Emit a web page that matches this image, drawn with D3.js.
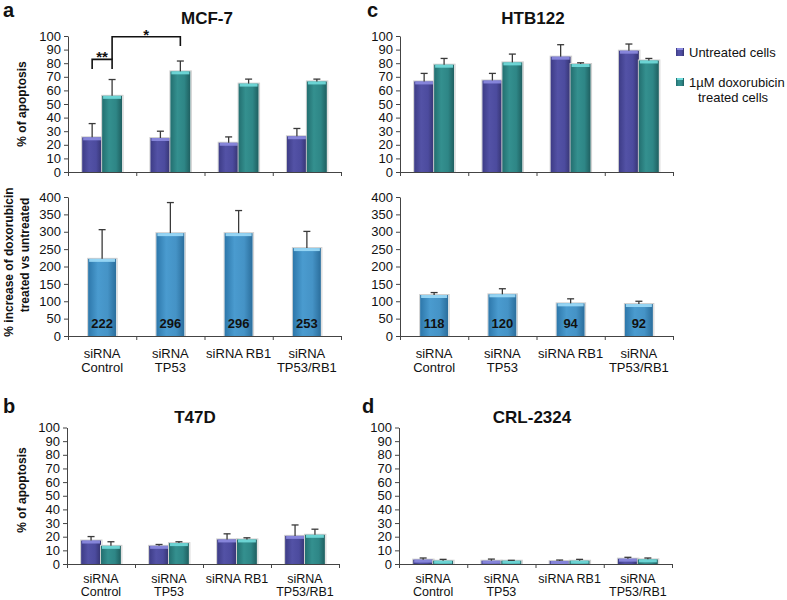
<!DOCTYPE html>
<html>
<head>
<meta charset="utf-8">
<script src="https://cdn.jsdelivr.net/npm/d3@7"></script>
<style>
  html, body { margin: 0; padding: 0; background: #fff; }
  svg { display: block; font-family: "Liberation Sans", Arial, sans-serif; }
</style>
</head>
<body>
<svg id="chart" width="787" height="600"></svg>
<script>
// ---------- DATA ----------
const categories = ["siRNA Control", "siRNA TP53", "siRNA RB1", "siRNA TP53/RB1"];
const categoryLines = [["siRNA", "Control"], ["siRNA", "TP53"], ["siRNA RB1"], ["siRNA", "TP53/RB1"]];
const seriesNames = ["Untreated cells", "1\u00b5M doxorubicin treated cells"];

const mcf7Untreated    = [25.5, 25.0, 21.5, 26.3];
const mcf7UntreatedErr = [10.1, 5.0, 4.3, 5.7];
const mcf7Treated      = [56.0, 74.0, 65.0, 66.6];
const mcf7TreatedErr   = [12.0, 7.6, 3.3, 1.7];

const htbUntreated     = [66.6, 67.3, 84.8, 89.2];
const htbUntreatedErr  = [5.9, 5.2, 8.8, 4.9];
const htbTreated       = [78.9, 80.6, 79.4, 82.0];
const htbTreatedErr    = [4.6, 6.1, 0.9, 1.5];

const t47dUntreated    = [17.2, 13.3, 18.0, 20.6];
const t47dUntreatedErr = [2.9, 1.0, 4.1, 8.0];
const t47dTreated      = [13.3, 15.3, 18.0, 21.4];
const t47dTreatedErr   = [3.0, 1.0, 1.2, 4.1];

const crlUntreated     = [3.2, 2.4, 2.2, 3.9];
const crlUntreatedErr  = [1.2, 1.2, 0.7, 1.0];
const crlTreated       = [2.4, 2.4, 2.4, 3.4];
const crlTreatedErr    = [1.0, 0.3, 1.0, 1.0];

const mcf7Increase     = [222, 296, 296, 253];
const mcf7IncreaseErr  = [84, 88, 65, 48];
const htbIncrease      = [118, 120, 94, 92];
const htbIncreaseErr   = [7, 16, 13, 8];

const apoptosisTicks = [0, 10, 20, 30, 40, 50, 60, 70, 80, 90, 100];
const increaseTicks  = [0, 50, 100, 150, 200, 250, 300, 350, 400];

// ---------- SETUP ----------
const svg = d3.select("#chart");
const defs = svg.append("defs");

function hGrad(id, stops) {
  const g = defs.append("linearGradient").attr("id", id)
    .attr("x1", "0%").attr("x2", "100%").attr("y1", "0%").attr("y2", "0%");
  stops.forEach(s => g.append("stop").attr("offset", s[0]).attr("stop-color", s[1]));
}
hGrad("gUntr", [["0%", "#3d3c86"], ["35%", "#5352a6"], ["70%", "#4c4b9e"], ["100%", "#34336f"]]);
hGrad("gTreat", [["0%", "#236f70"], ["35%", "#34908f"], ["70%", "#2e8686"], ["100%", "#1f5f60"]]);
hGrad("gInc", [["0%", "#2d77aa"], ["35%", "#4a9bcf"], ["70%", "#4593c6"], ["100%", "#2b6e9c"]]);

const styles = {
  untr:  { fill: "url(#gUntr)",  top: "#8c8be0" },
  treat: { fill: "url(#gTreat)", top: "#72dcdc" },
  inc:   { fill: "url(#gInc)",   top: "#9ddcf8" }
};

const FONT = "13px";

function panelAxes(g, x0, x1, yScale, ticks) {
  g.append("g")
    .attr("transform", `translate(${x0},0)`)
    .call(d3.axisLeft(yScale).tickValues(ticks).tickSize(4).tickPadding(3).tickSizeOuter(0))
    .call(a => a.selectAll("text").attr("font-size", FONT).attr("fill", "#111")
      .attr("font-family", '"Liberation Sans", Arial, sans-serif'))
    .call(a => a.selectAll("line,path").attr("stroke", "#444"));
  const xb = d3.scaleLinear().domain([0, categories.length]).range([x0, x1]);
  g.append("g")
    .attr("transform", `translate(0,${yScale(0)})`)
    .call(d3.axisBottom(xb).tickValues(d3.range(categories.length + 1)).tickSize(4).tickFormat("").tickSizeOuter(0))
    .call(a => a.selectAll("line,path").attr("stroke", "#444"));
}

function drawBar(g, x, w, y0, y1, st) {
  const h = Math.max(0, y0 - y1);
  g.append("rect").attr("x", x - 0.5).attr("y", y1 - 0.5).attr("width", w + 1.5).attr("height", h + 1)
    .attr("fill", "none").attr("stroke", "#cfcfcf").attr("stroke-width", 1);
  g.append("rect").attr("x", x).attr("y", y1).attr("width", w).attr("height", h).attr("fill", st.fill);
  const th = Math.min(3, h);
  g.append("rect").attr("x", x + 1).attr("y", y1).attr("width", w - 2).attr("height", th)
    .attr("fill", st.top).attr("opacity", 0.9);
}

function drawErr(g, cx, yv, ye) {
  g.append("line").attr("x1", cx).attr("x2", cx).attr("y1", yv).attr("y2", ye)
    .attr("stroke", "#3a3a3a").attr("stroke-width", 1.3);
  g.append("line").attr("x1", cx - 3.5).attr("x2", cx + 3.5).attr("y1", ye).attr("y2", ye)
    .attr("stroke", "#3a3a3a").attr("stroke-width", 1.3);
}

function groupedPanel(x0, x1, yTop, yBot, untr, untrErr, treat, treatErr) {
  const g = svg.append("g");
  const y = d3.scaleLinear().domain([0, 100]).range([yBot, yTop]);
  const x = d3.scaleBand().domain(categories).range([x0, x1]).padding(0);
  const sub = d3.scaleBand().domain(["untr", "treat"]).range([0, x.bandwidth()]).paddingInner(0).paddingOuter(0.71);
  categories.forEach((c, i) => {
    const xu = x(c) + sub("untr"), xt = x(c) + sub("treat"), bw = sub.bandwidth();
    drawBar(g, xu, bw, y(0), y(untr[i]), styles.untr);
    drawBar(g, xt, bw, y(0), y(treat[i]), styles.treat);
    drawErr(g, xu + bw / 2, y(untr[i]), y(untr[i] + untrErr[i]));
    drawErr(g, xt + bw / 2, y(treat[i]), y(treat[i] + treatErr[i]));
  });
  panelAxes(g, x0, x1, y, apoptosisTicks);
  return { g, x, y, sub };
}

function increasePanel(x0, x1, yTop, yBot, vals, errs) {
  const g = svg.append("g");
  const y = d3.scaleLinear().domain([0, 400]).range([yBot, yTop]);
  const x = d3.scaleBand().domain(categories).range([x0, x1]).paddingInner(0.59).paddingOuter(0.295);
  categories.forEach((c, i) => {
    drawBar(g, x(c), x.bandwidth(), y(0), y(vals[i]), styles.inc);
    drawErr(g, x(c) + x.bandwidth() / 2, y(vals[i]), y(vals[i] + errs[i]));
    g.append("text").attr("x", x(c) + x.bandwidth() / 2).attr("y", yBot - 8)
      .attr("text-anchor", "middle").attr("font-size", "13px").attr("font-weight", "bold")
      .attr("fill", "#111").text(vals[i]);
  });
  panelAxes(g, x0, x1, y, increaseTicks);
  return { g, x, y };
}

function catLabels(x0, x1, baseline, step, size) {
  const x = d3.scaleBand().domain(categories).range([x0, x1]);
  categories.forEach((c, i) => {
    categoryLines[i].forEach((line, j) => {
      svg.append("text").attr("x", x(c) + x.bandwidth() / 2).attr("y", baseline + j * step)
        .attr("text-anchor", "middle").attr("font-size", size).attr("fill", "#111").text(line);
    });
  });
}

function txt(x, y, s, size, bold, anchor, rot) {
  const t = svg.append("text").attr("x", x).attr("y", y).attr("font-size", size)
    .attr("font-weight", bold ? "bold" : "normal").attr("text-anchor", anchor || "middle")
    .attr("fill", "#111").text(s);
  if (rot) t.attr("transform", `rotate(-90,${x},${y})`);
  return t;
}

// ---------- PANELS ----------
const pa = groupedPanel(68, 341, 36, 172, mcf7Untreated, mcf7UntreatedErr, mcf7Treated, mcf7TreatedErr);
const pc = groupedPanel(400, 673, 36, 172, htbUntreated, htbUntreatedErr, htbTreated, htbTreatedErr);
increasePanel(68, 341, 197, 336, mcf7Increase, mcf7IncreaseErr);
increasePanel(400, 673, 197, 336, htbIncrease, htbIncreaseErr);
groupedPanel(67, 339, 427.5, 564, t47dUntreated, t47dUntreatedErr, t47dTreated, t47dTreatedErr);
groupedPanel(399, 672, 427.5, 564, crlUntreated, crlUntreatedErr, crlTreated, crlTreatedErr);

catLabels(68, 341, 358, 14, FONT);
catLabels(400, 673, 358, 14, FONT);
catLabels(67, 339, 583, 13, "12.5px");
catLabels(399, 672, 583, 13, "12.5px");

// significance brackets in panel a
(function () {
  const { x, y, sub } = pa;
  const bw = sub.bandwidth();
  const cU = x(categories[0]) + sub("untr") + bw / 2;
  const cT = x(categories[0]) + sub("treat") + bw / 2;
  const c2T = x(categories[1]) + sub("treat") + bw / 2;
  const path1 = d3.path();
  path1.moveTo(cU, y(75.7)); path1.lineTo(cU, y(82.8)); path1.lineTo(cT, y(82.8)); path1.lineTo(cT, y(75.7));
  svg.append("path").attr("d", path1.toString()).attr("fill", "none").attr("stroke", "#111").attr("stroke-width", 1.6);
  const path2 = d3.path();
  path2.moveTo(cT, y(82.8)); path2.lineTo(cT, y(99.5)); path2.lineTo(c2T, y(99.5)); path2.lineTo(c2T, y(92.6));
  svg.append("path").attr("d", path2.toString()).attr("fill", "none").attr("stroke", "#111").attr("stroke-width", 1.6);
  txt((cU + cT) / 2, y(84.5) + 5, "**", "15px", true);
  txt((cT + c2T) / 2, y(101.5) + 6, "*", "15px", true);
})();

// titles
txt(207, 24, "MCF-7", "17px", true);
txt(533, 24, "HTB122", "17px", true);
txt(195, 423, "T47D", "17px", true);
txt(532, 423, "CRL-2324", "17px", true);

// panel letters
txt(3, 17, "a", "20px", true, "start");
txt(367, 17, "c", "20px", true, "start");
txt(3, 413, "b", "20px", true, "start");
txt(362, 413, "d", "20px", true, "start");

// y-axis titles
txt(26, 104, "% of apoptosis", "12px", true, "middle", true);
txt(26, 490, "% of apoptosis", "12px", true, "middle", true);
txt(13, 262, "% increase of doxorubicin", "12px", true, "middle", true);
txt(29, 255, "treated vs untreated", "12px", true, "middle", true);

// legend
const legendY = [52, 82];
seriesNames.forEach((s, i) => {
  const st = i === 0 ? styles.untr : styles.treat;
  svg.append("rect").attr("x", 676).attr("y", legendY[i] - 4).attr("width", 8).attr("height", 8).attr("fill", st.fill);
  svg.append("rect").attr("x", 677).attr("y", legendY[i] - 4).attr("width", 6).attr("height", 2).attr("fill", st.top);
});
txt(689, 57, "Untreated cells", FONT, false, "start");
txt(689, 87, "1\u00b5M doxorubicin", FONT, false, "start");
txt(698, 102, "treated cells", FONT, false, "start");
</script>
</body>
</html>
